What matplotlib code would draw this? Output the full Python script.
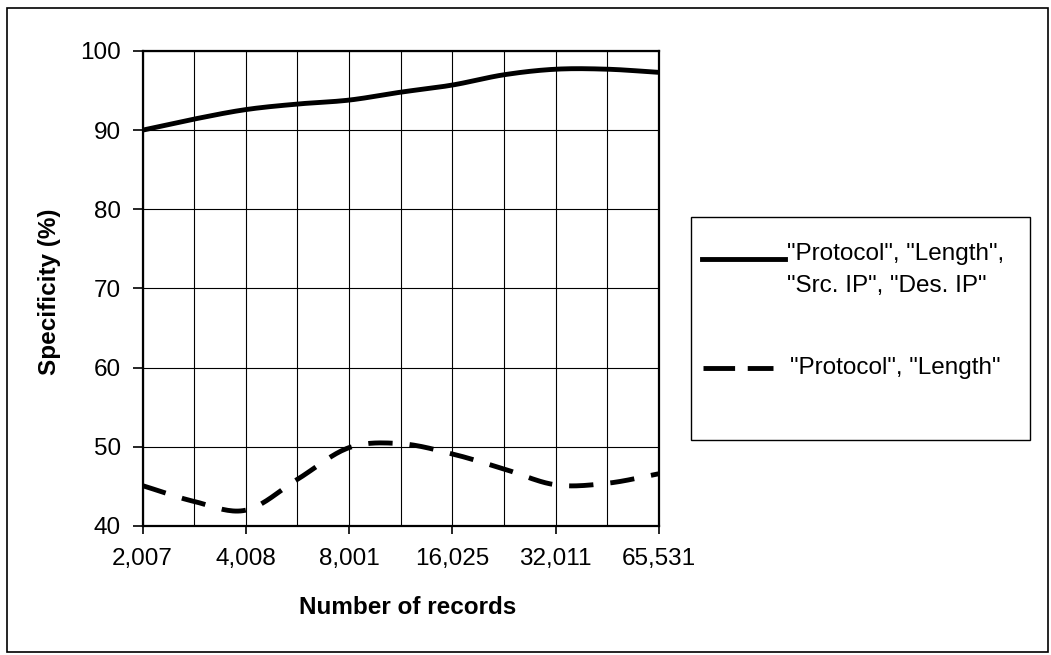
import numpy as np
import matplotlib
matplotlib.use("Agg")
import matplotlib.pyplot as plt
from matplotlib.patches import Rectangle
from matplotlib.lines import Line2D

plt.rcParams['font.family'] = ['Liberation Sans', 'DejaVu Sans']

# data (11 categories, only every other one is labelled)
tick_labels = ["2,007", "4,008", "8,001", "16,025", "32,011", "65,531"]
n_cats = 11
all_fields = [90.0, 91.4, 92.6, 93.3, 93.8, 94.8, 95.7, 97.0, 97.7, 97.7, 97.3]
proto_len = [45.1, 43.1, 42.0, 45.9, 49.9, 50.4, 49.1, 47.2, 45.2, 45.4, 46.6]
series_names = ['"Protocol", "Length",\n"Src. IP", "Des. IP"', '"Protocol", "Length"']


def smooth(y, steps=20):
    # catmull-rom curve through the points, like excel "smoothed line"
    y = np.asarray(y, float)
    x = np.arange(len(y), dtype=float)
    px = np.concatenate([[2 * x[0] - x[1]], x, [2 * x[-1] - x[-2]]])
    py = np.concatenate([[2 * y[0] - y[1]], y, [2 * y[-1] - y[-2]]])
    xs, ys = [], []
    t = np.linspace(0, 1, steps, endpoint=False)
    for i in range(1, len(px) - 2):
        for p, out in ((px, xs), (py, ys)):
            p0, p1, p2, p3 = p[i - 1], p[i], p[i + 1], p[i + 2]
            out.extend(0.5 * ((2 * p1) + (-p0 + p2) * t
                              + (2 * p0 - 5 * p1 + 4 * p2 - p3) * t ** 2
                              + (-p0 + 3 * p1 - 3 * p2 + p3) * t ** 3))
    xs.append(x[-1])
    ys.append(y[-1])
    return np.array(xs), np.array(ys)


W, H = 1051, 655
fig = plt.figure(figsize=(W / 100, H / 100), dpi=100)


def fx(px):
    return px / W


def fy(py):
    return 1 - py / H


ax = fig.add_axes([fx(142.5), fy(526), fx(659) - fx(142.5), fy(51) - fy(526)])

x1, y1 = smooth(all_fields)
x2, y2 = smooth(proto_len)
ax.plot(x1, y1, color="black", lw=3.5, solid_capstyle="butt")
ax.plot(x2, y2, color="black", lw=3.5, dashes=(5, 3.5), dash_capstyle="butt")

ax.set_xlim(0, n_cats - 1)
ax.set_ylim(40, 100)
ax.set_yticks(np.arange(40, 101, 10))
ax.set_xticks(np.arange(0, n_cats, 2))
ax.set_xticklabels(tick_labels)
ax.set_xticks(np.arange(n_cats), minor=True)
ax.grid(True, which="both", axis="x", color="black", lw=0.8)
ax.grid(True, which="major", axis="y", color="black", lw=0.8)
ax.tick_params(axis="both", which="major", labelsize=17.5, width=1.2,
               direction="out", colors="black")
ax.tick_params(axis="y", length=7.5, pad=8)
ax.tick_params(axis="x", length=6, pad=10)
ax.tick_params(axis="x", which="minor", length=0)
for s in ax.spines.values():
    s.set_linewidth(1.6)
    s.set_color("black")

fig.text(fx(50), fy(292), "Specificity (%)", rotation=90, ha="center", va="center",
         fontsize=17.5, fontweight="bold")
fig.text(fx(408), fy(608), "Number of records", ha="center", va="center",
         fontsize=17.5, fontweight="bold")

# outer chart frame
fig.patches.append(Rectangle((fx(7), fy(652)), fx(1048) - fx(7), fy(8) - fy(652),
                             transform=fig.transFigure, fill=False, ec="black", lw=1.2))

# legend box
fig.patches.append(Rectangle((fx(691), fy(440)), fx(1030) - fx(691), fy(217) - fy(440),
                             transform=fig.transFigure, fill=False, ec="black", lw=1.0))
fig.lines.append(Line2D([fx(702), fx(785)], [fy(259), fy(259)], transform=fig.transFigure,
                        color="black", lw=3.5))
for k, line in enumerate(series_names[0].split("\n")):
    fig.text(fx(787), fy(254 + 32 * k), line, ha="left", va="center", fontsize=17.5)
fig.lines.append(Line2D([fx(703), fx(773)], [fy(368), fy(368)], transform=fig.transFigure,
                        color="black", lw=3.5, dashes=(6.5, 2.6), dash_capstyle="butt"))
fig.text(fx(790), fy(368), series_names[1], ha="left", va="center", fontsize=17.5)

fig.savefig("out.png", dpi=100)
